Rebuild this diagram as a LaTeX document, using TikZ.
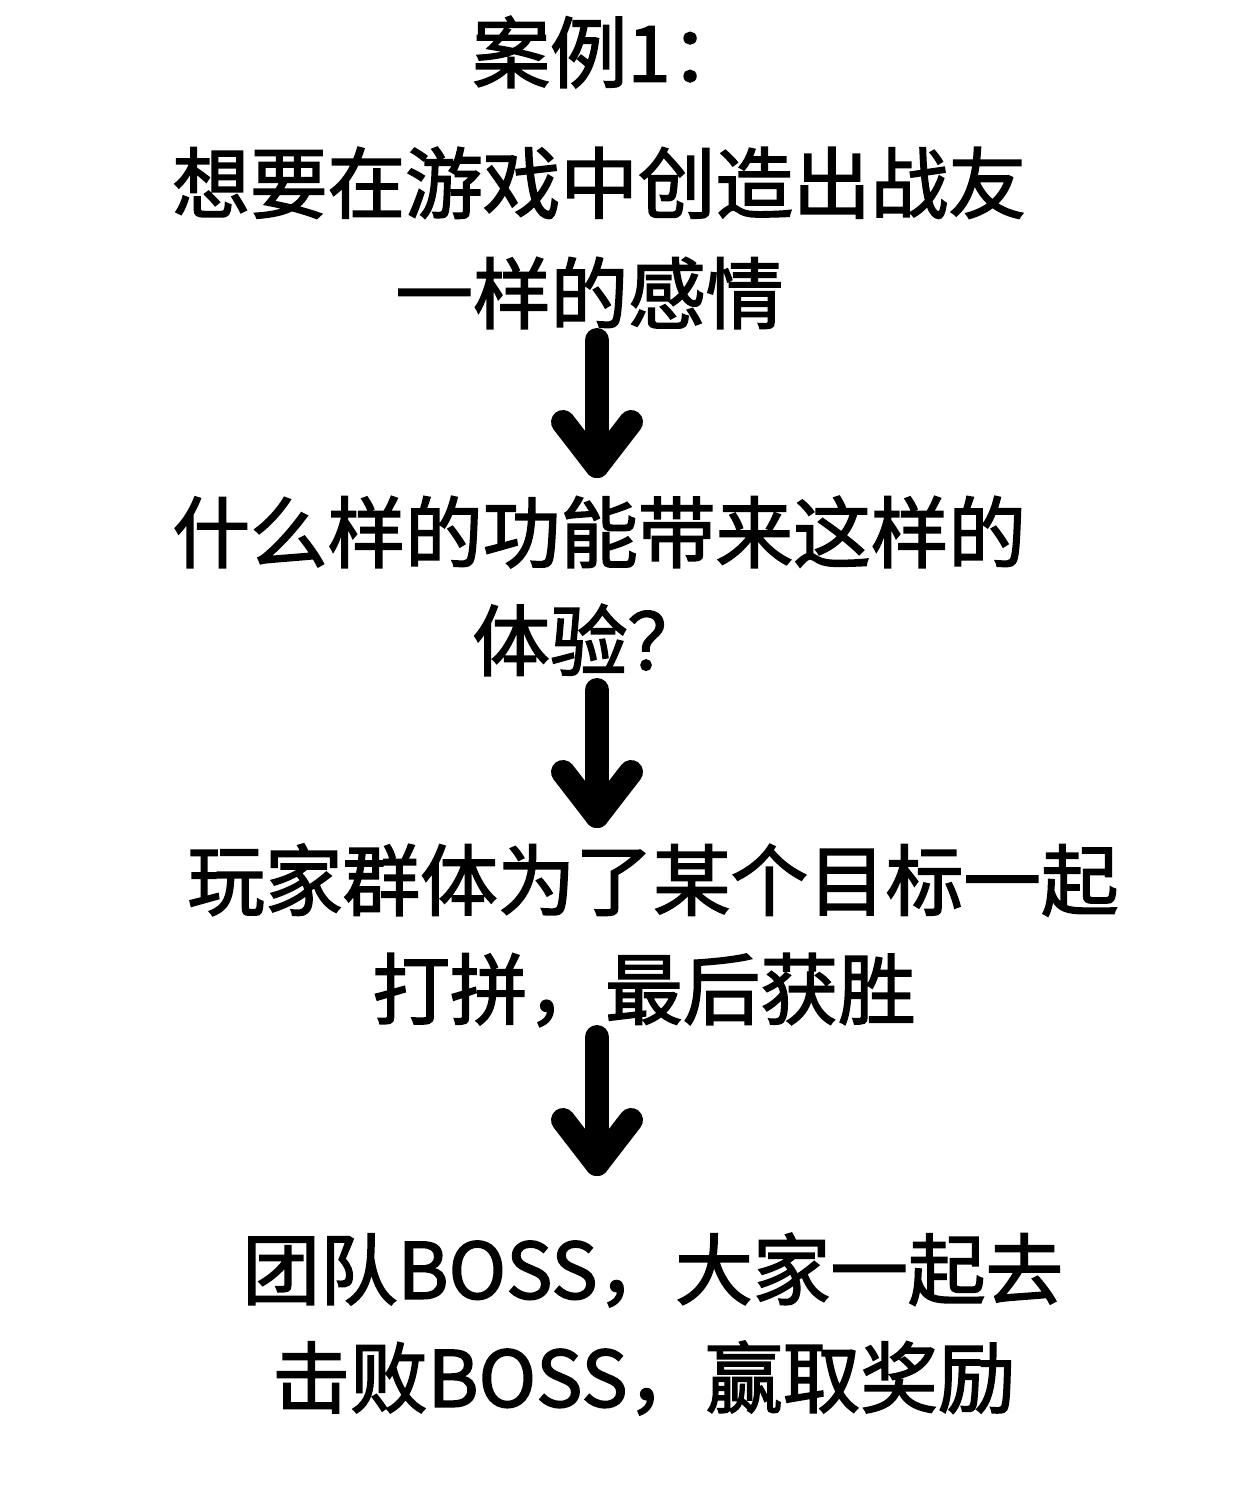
\documentclass[tikz,border=0pt]{standalone}
\usepackage{fontspec}
\setmainfont{Noto Sans CJK SC}
\newfontfamily\medcjk{Noto Sans CJK SC}[FakeBold=2]
\begin{document}
\begin{tikzpicture}[x=0.5pt,y=-0.5pt,
  txt/.style={anchor=west,inner sep=0pt,font=\fontsize{38.8}{38.8}\medcjk},
  arrowline/.style={line width=12pt,line cap=round,line join=round}]
\useasboundingbox (0,0) rectangle (1238,1494);
\node[txt] (t0) at (472,52) {案例1：};
\node[txt] (l1) at (172,183) {想要在游戏中创造出战友};
\node[txt] (l2) at (395,293) {一样的感情};
\node[txt] (l3) at (172,532) {什么样的功能带来这样的};
\node[txt] (l4) at (472,640) {体验？};
\node[txt] (l5) at (187,880) {玩家群体为了某个目标一起};
\node[txt] (l6) at (372,990) {打拼，最后获胜};
\node[txt] (l7) at (242,1270) {团队BOSS，大家一起去};
\node[txt] (l8) at (272,1378) {击败BOSS，赢取奖励};
\coordinate (a1s) at (597,340); \coordinate (a1e) at (597,466);
\coordinate (a2s) at (597,690); \coordinate (a2e) at (597,816);
\coordinate (a3s) at (597,1037); \coordinate (a3e) at (597,1164);
\foreach \s/\e in {a1s/a1e,a2s/a2e,a3s/a3e}{
  \draw[arrowline] (\s) -- (\e);
  \draw[arrowline] (\e) ++(-34,-44) -- (\e) -- ++(34,-44);
}
\end{tikzpicture}
\end{document}
